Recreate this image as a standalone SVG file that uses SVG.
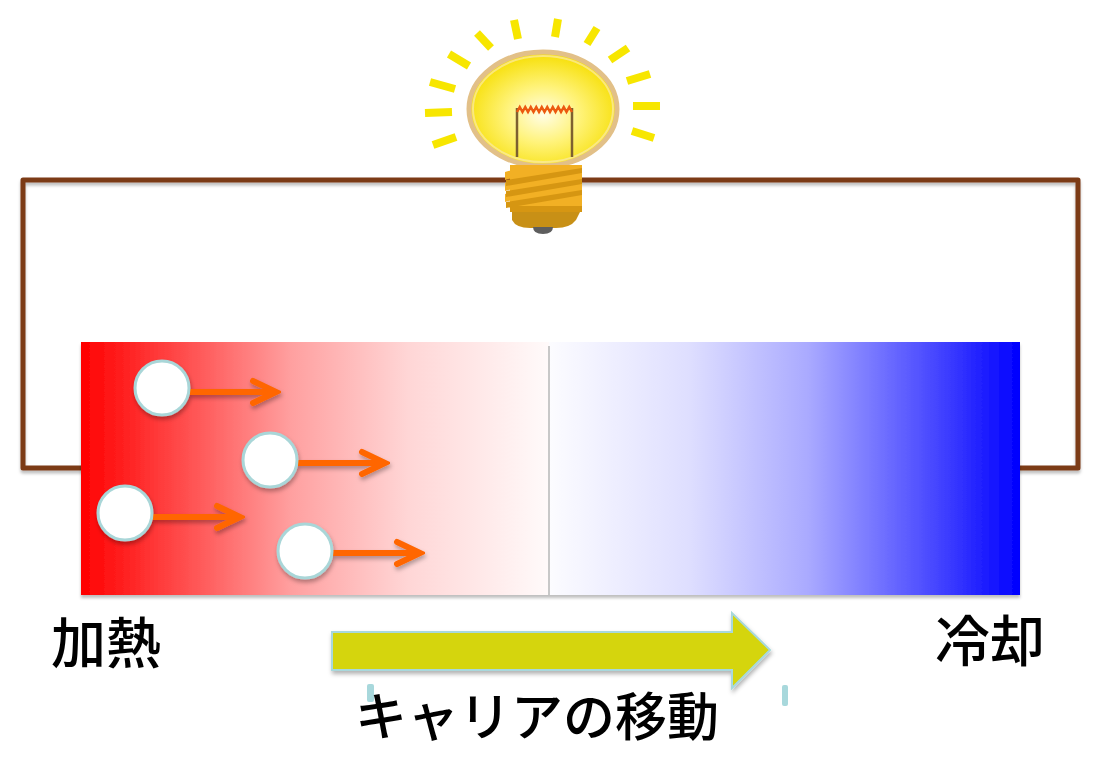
<svg xmlns="http://www.w3.org/2000/svg" width="1093" height="758" viewBox="0 0 1093 758">
  <defs>
    <style>
      .wire { fill: none; stroke: #7b3a18; stroke-width: 5; stroke-linejoin: round; }
      .ray { stroke: #f7e600; stroke-width: 8; stroke-linecap: butt; }
      .carrier { fill: #ffffff; stroke: #a9d6d8; stroke-width: 3; }
      .flow { fill: none; stroke: #ff6600; stroke-width: 6; }
      .label { font-family: "Noto Sans CJK JP", "Noto Sans CJK SC", sans-serif; font-weight: 500; fill: #000000; }
      .mark { fill: #a8d8dc; }
    </style>
    <filter id="shadow" x="-10%" y="-10%" width="130%" height="140%">
      <feDropShadow dx="1" dy="3" stdDeviation="2" flood-color="#000" flood-opacity="0.3"/>
    </filter>
    <filter id="softShadow" x="-5%" y="-5%" width="110%" height="120%">
      <feDropShadow dx="0" dy="3" stdDeviation="1.5" flood-color="#000" flood-opacity="0.25"/>
    </filter>
    <linearGradient id="hot" x1="0" y1="0" x2="1" y2="0">
      <stop offset="0" stop-color="#ff0000"/>
      <stop offset="0.2" stop-color="#ff4646"/>
      <stop offset="0.45" stop-color="#ffa0a0"/>
      <stop offset="0.7" stop-color="#ffd6d6"/>
      <stop offset="1" stop-color="#fffafa"/>
    </linearGradient>
    <linearGradient id="cold" x1="0" y1="0" x2="1" y2="0">
      <stop offset="0" stop-color="#fcfcff"/>
      <stop offset="0.3" stop-color="#dedeff"/>
      <stop offset="0.55" stop-color="#aaaaff"/>
      <stop offset="0.8" stop-color="#4e4eff"/>
      <stop offset="1" stop-color="#0000ff"/>
    </linearGradient>
    <radialGradient id="glass" cx="0.5" cy="0.55" r="0.55">
      <stop offset="0" stop-color="#fffde6"/>
      <stop offset="0.45" stop-color="#fff37a"/>
      <stop offset="1" stop-color="#f6de00"/>
    </radialGradient>
    <marker id="chevron" viewBox="-30 -16 34 32" refX="0" refY="0" markerWidth="34" markerHeight="32" markerUnits="userSpaceOnUse" orient="auto">
      <path d="M-24,-11 L-1,0 L-24,11" fill="none" stroke="#ff6600" stroke-width="6" stroke-linecap="round"/>
    </marker>
  </defs>

  <rect width="1093" height="758" fill="#ffffff"/>

  <!-- circuit wire -->
  <g id="connectors">
    <path class="wire" filter="url(#softShadow)" d="M90,468 L23,468 L23,180 L1078,180 L1078,468 L1010,468"/>
  </g>

  <!-- light bulb -->
  <g id="bulb">
    <g id="rays">
      <line class="ray" x1="433" y1="145" x2="456" y2="137"/>
      <line class="ray" x1="425" y1="113" x2="452" y2="112"/>
      <line class="ray" x1="430" y1="82" x2="455" y2="89"/>
      <line class="ray" x1="449" y1="54" x2="469" y2="66"/>
      <line class="ray" x1="477" y1="33" x2="491" y2="48"/>
      <line class="ray" x1="514" y1="20" x2="518" y2="39"/>
      <line class="ray" x1="558" y1="19" x2="555" y2="37"/>
      <line class="ray" x1="597" y1="28" x2="587" y2="44"/>
      <line class="ray" x1="628" y1="48" x2="610" y2="60"/>
      <line class="ray" x1="650" y1="74" x2="627" y2="81"/>
      <line class="ray" x1="660" y1="106" x2="633" y2="106"/>
      <line class="ray" x1="654" y1="138" x2="632" y2="131"/>
    </g>
    <ellipse cx="543" cy="109" rx="74" ry="57" fill="url(#glass)" stroke="#e2c088" stroke-width="5"/>
    <ellipse cx="543" cy="109" rx="70" ry="53" fill="none" stroke="#fbe9a8" stroke-width="2" opacity="0.7"/>
    <!-- filament -->
    <line x1="517" y1="108" x2="517" y2="157" stroke="#7d6030" stroke-width="2.5"/>
    <line x1="572" y1="108" x2="572" y2="157" stroke="#7d6030" stroke-width="2.5"/>
    <path d="M517,112 l2.75,-5 l2.75,5 l2.75,-5 l2.75,5 l2.75,-5 l2.75,5 l2.75,-5 l2.75,5 l2.75,-5 l2.75,5 l2.75,-5 l2.75,5 l2.75,-5 l2.75,5 l2.75,-5 l2.75,5 l2.75,-5 l2.75,5 l2.75,-5 l2.75,5" fill="none" stroke="#ec5a10" stroke-width="2.5"/>
    <!-- screw base -->
    <path d="M510,165 L582,165 L582,212 L510,212 Z" fill="#f2b024"/>
    <path d="M505,172 L512,170 L512,178 L505,180 Z M505,183 L512,181 L512,189 L505,191 Z M505,194 L512,192 L512,200 L505,202 Z" fill="#f2b024"/>
    <path d="M506,180 L582,168 L582,173 L506,186 Z M506,191 L582,179 L582,184 L506,197 Z M506,202 L582,190 L582,195 L506,208 Z" fill="#d69612"/>
    <rect x="510" y="206" width="72" height="6" fill="#d69612"/>
    <path d="M512,212 L580,212 L576,220 Q570,228 556,228 L530,228 Q516,228 512,220 Z" fill="#c89016"/>
    <path d="M533,227 L553,227 Q553,234 543,234 Q533,234 533,227 Z" fill="#5e5e5e"/>
  </g>

  <!-- thermoelectric element -->
  <g id="element" filter="url(#softShadow)">
    <rect x="81" y="342" width="468" height="253" fill="url(#hot)"/>
    <rect x="549" y="342" width="471" height="253" fill="url(#cold)"/>
    <line x1="549" y1="346" x2="549" y2="595" stroke="#c8c8c8" stroke-width="2"/>
  </g>

  <!-- carriers -->
  <g id="carrier1" filter="url(#shadow)">
    <line class="flow" x1="189" y1="392" x2="277" y2="392" marker-end="url(#chevron)"/>
    <circle class="carrier" cx="162" cy="388" r="27"/>
  </g>
  <g id="carrier2" filter="url(#shadow)">
    <line class="flow" x1="297" y1="463" x2="386" y2="463" marker-end="url(#chevron)"/>
    <circle class="carrier" cx="270" cy="460" r="27"/>
  </g>
  <g id="carrier3" filter="url(#shadow)">
    <line class="flow" x1="152" y1="517" x2="241" y2="517" marker-end="url(#chevron)"/>
    <circle class="carrier" cx="125" cy="513" r="27"/>
  </g>
  <g id="carrier4" filter="url(#shadow)">
    <line class="flow" x1="332" y1="553" x2="421" y2="553" marker-end="url(#chevron)"/>
    <circle class="carrier" cx="305" cy="551" r="27"/>
  </g>

  <!-- direction of carrier movement -->
  <g id="movementArrow">
    <path d="M332,632 L732,632 L732,613 L770,650 L732,688 L732,670 L332,670 Z" fill="#d5d508" stroke="#a8d8dc" stroke-width="2" filter="url(#shadow)"/>
    <rect class="mark" x="367" y="684" width="7" height="18" rx="2"/>
    <rect class="mark" x="782" y="685" width="6" height="21" rx="2"/>
  </g>

  <!-- labels -->
  <g id="heatLabel">
    <text class="label" x="51" y="663" font-size="55">加熱</text>
  </g>
  <g id="coolLabel">
    <text class="label" x="935" y="661" font-size="55">冷却</text>
  </g>
  <g id="movementLabel">
    <text class="label" x="355" y="736" font-size="52">キャリアの移動</text>
  </g>
</svg>
